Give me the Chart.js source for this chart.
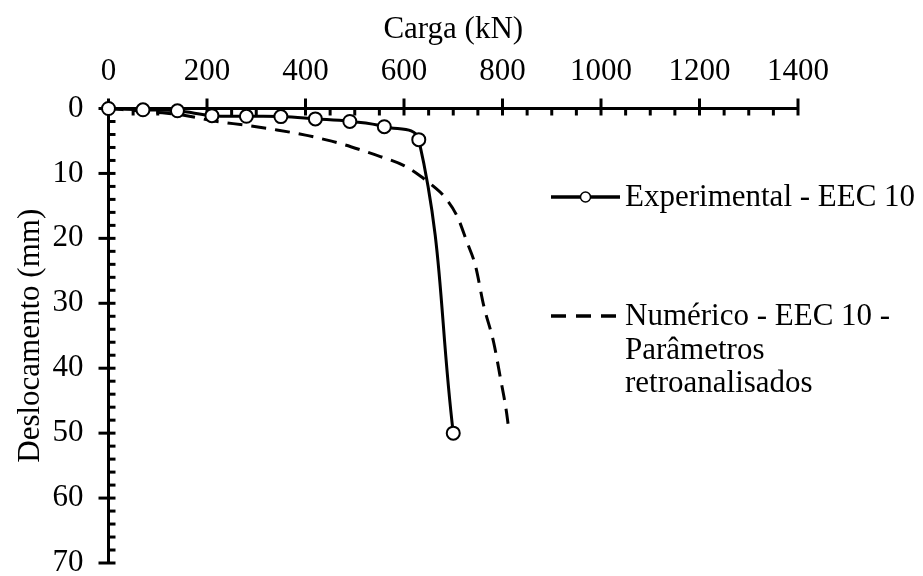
<!DOCTYPE html>
<html>
<head>
<meta charset="utf-8">
<script src="https://cdn.jsdelivr.net/npm/chart.js@4"></script>
<style>
    html, body { margin: 0; padding: 0; background: #fff; }
    #wrap { width: 923px; height: 576px; }
</style>
</head>
<body>
<div id="wrap"><canvas id="chart" width="923" height="576"></canvas></div>
<script>
// ************** Data
const expLoad = [0, 70, 140, 210, 280, 350, 420, 490, 560, 630, 700];
const expDisp = [0, 0.2, 0.35, 1.1, 1.2, 1.25, 1.6, 2.0, 2.8, 4.8, 50];

const numLoad = [0, 50, 100, 150, 212, 280, 342, 400, 440, 480, 521, 552, 600, 633, 660, 681, 708, 728, 745, 762, 782, 796, 808, 813];
const numDisp = [0, 0.3, 0.6, 1.0, 1.9, 2.6, 3.3, 4.1, 4.8, 5.6, 6.6, 7.4, 8.8, 10.4, 12, 13.5, 16.6, 20.6, 24.2, 30.4, 36, 41.6, 46.7, 49.6];

const xRange = [0, 1400];
const xStep = 200;
const xMinor = 50;
const yRange = [0, 70];
const yStep = 10;
const yMinor = 2;

const expName = 'Experimental - EEC 10';
const numName = ['Numérico - EEC 10 -', 'Parâmetros', 'retroanalisados'];

const FONT = 'Liberation Serif, Times New Roman, serif';
const FSIZE = 31;

function toPoints(xs, ys) {
    return xs.map((x, i) => ({ x: x, y: ys[i] }));
}

// ************** Tick marks (major crossing, minor inside)
const axisTicks = {
    id: 'axisTicks',
    beforeDatasetsDraw(chart) {
        const ctx = chart.ctx;
        const xs = chart.scales.x;
        const ys = chart.scales.y;
        const top = chart.chartArea.top;
        const left = chart.chartArea.left;
        ctx.save();
        ctx.strokeStyle = '#000';
        ctx.lineWidth = 3;
        for (let v = xRange[0]; v <= xRange[1]; v += xMinor) {
            const px = xs.getPixelForValue(v);
            const major = v % xStep === 0;
            ctx.beginPath();
            ctx.moveTo(px, major ? top - 10 : top);
            ctx.lineTo(px, top + 7);
            ctx.stroke();
        }
        for (let v = yRange[0]; v <= yRange[1]; v += yMinor) {
            const py = ys.getPixelForValue(v);
            const major = v % yStep === 0;
            ctx.beginPath();
            ctx.moveTo(major ? left - 10 : left, py);
            ctx.lineTo(left + 7, py);
            ctx.stroke();
        }
        ctx.restore();
    }
};

// ************** Legend on the right
const sideLegend = {
    id: 'sideLegend',
    afterDraw(chart) {
        const ctx = chart.ctx;
        const exp = chart.data.datasets[0];
        const num = chart.data.datasets[1];
        const lx0 = 551, lx1 = 620, tx = 625;
        ctx.save();
        ctx.fillStyle = '#000';
        ctx.font = FSIZE + 'px ' + FONT;
        ctx.textBaseline = 'middle';
        ctx.textAlign = 'left';

        // experimental
        let y = 197;
        ctx.strokeStyle = exp.borderColor;
        ctx.lineWidth = 3.5;
        ctx.beginPath();
        ctx.moveTo(lx0, y);
        ctx.lineTo(lx1, y);
        ctx.stroke();
        ctx.beginPath();
        ctx.arc((lx0 + lx1) / 2, y, 5, 0, Math.PI * 2);
        ctx.fillStyle = '#fff';
        ctx.fill();
        ctx.lineWidth = 1.5;
        ctx.stroke();
        ctx.fillStyle = '#000';
        ctx.fillText(exp.label, tx, y + 1);

        // numerico
        y = 316;
        ctx.strokeStyle = num.borderColor;
        ctx.lineWidth = 3.5;
        ctx.setLineDash([15, 10]);
        ctx.beginPath();
        ctx.moveTo(lx0, y);
        ctx.lineTo(lx1, y);
        ctx.stroke();
        ctx.setLineDash([]);
        numName.forEach((line, i) => {
            ctx.fillText(line, tx, y + 1 + i * 33.5);
        });
        ctx.restore();
    }
};

const ctx = document.getElementById('chart').getContext('2d');

new Chart(ctx, {
    type: 'line',
    data: {
        datasets: [{
            label: expName,
            data: toPoints(expLoad, expDisp),
            borderColor: '#000',
            borderWidth: 3,
            pointRadius: 6.5,
            pointBorderWidth: 2,
            pointBackgroundColor: '#fff',
            pointBorderColor: '#000',
            tension: 0.4,
            fill: false,
            clip: false
        }, {
            label: numName.join(' '),
            data: toPoints(numLoad, numDisp),
            borderColor: '#000',
            borderWidth: 3,
            borderDash: [15, 9],
            pointRadius: 0,
            cubicInterpolationMode: 'monotone',
            fill: false,
            clip: false
        }]
    },
    options: {
        responsive: false,
        animation: false,
        layout: { padding: { top: 0, left: 0, right: 125, bottom: 13 } },
        plugins: {
            legend: { display: false },
            tooltip: { enabled: false }
        },
        scales: {
            x: {
                type: 'linear',
                position: 'top',
                min: xRange[0],
                max: xRange[1],
                grid: { display: false, drawTicks: false },
                border: { display: true, color: '#000', width: 3 },
                ticks: {
                    stepSize: xStep,
                    color: '#000',
                    padding: 18,
                    font: { family: FONT, size: FSIZE },
                    callback: v => String(v)
                },
                title: {
                    display: true,
                    text: 'Carga (kN)',
                    color: '#000',
                    padding: { top: 11, bottom: 0 },
                    font: { family: FONT, size: FSIZE }
                },
                afterFit(scale) {
                    scale.height = 108.5;
                    scale.paddingLeft = 0;
                    scale.paddingRight = 0;
                }
            },
            y: {
                type: 'linear',
                reverse: true,
                min: yRange[0],
                max: yRange[1],
                grid: { display: false, drawTicks: false },
                border: { display: true, color: '#000', width: 3 },
                ticks: {
                    stepSize: yStep,
                    color: '#000',
                    padding: 25,
                    font: { family: FONT, size: FSIZE },
                    callback: v => String(v)
                },
                title: {
                    display: true,
                    text: 'Deslocamento (mm)',
                    color: '#000',
                    padding: { top: 12, bottom: 0 },
                    font: { family: FONT, size: FSIZE }
                },
                afterFit(scale) {
                    scale.width = 108.5;
                    scale.paddingTop = 0;
                    scale.paddingBottom = 0;
                }
            }
        }
    },
    plugins: [axisTicks, sideLegend]
});
</script>
</body>
</html>
